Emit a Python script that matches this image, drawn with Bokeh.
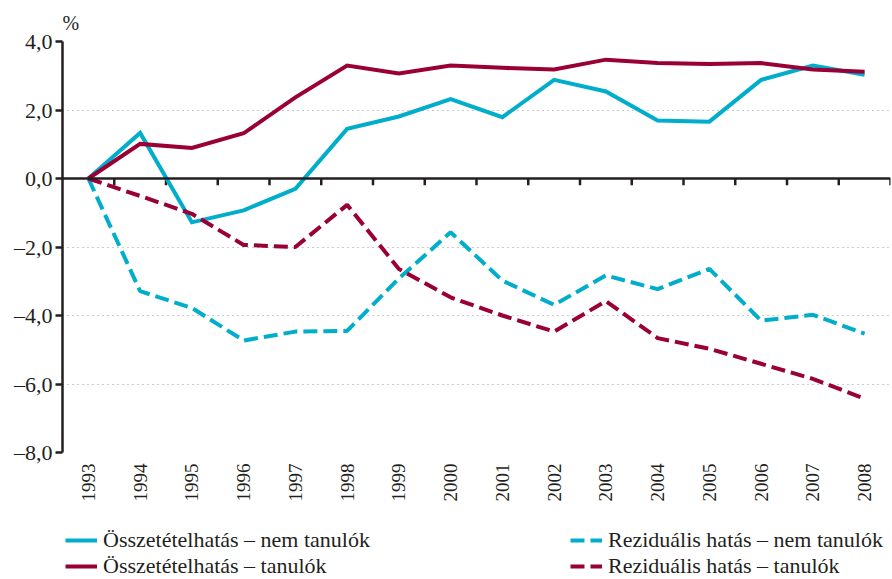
import math
from bokeh.plotting import figure
from bokeh.layouts import column
from bokeh.models import (Range1d, FixedTicker, CustomJSTickFormatter, Span,
                          Legend, LegendItem)
from bokeh.embed import file_html
from bokeh.resources import INLINE

years = [str(y) for y in range(1993, 2009)]
osszetetel_nem = [0, 1.33, -1.28, -0.93, -0.30, 1.45, 1.81, 2.32, 1.79, 2.88, 2.54, 1.69, 1.66, 2.88, 3.30, 3.03]
osszetetel_tan = [0, 1.01, 0.89, 1.32, 2.37, 3.30, 3.07, 3.30, 3.23, 3.18, 3.47, 3.37, 3.34, 3.37, 3.18, 3.12]
rezid_nem = [0, -3.29, -3.78, -4.73, -4.47, -4.45, -2.92, -1.57, -2.98, -3.69, -2.83, -3.23, -2.64, -4.15, -3.98, -4.53]
rezid_tan = [0, -0.51, -1.03, -1.94, -2.00, -0.77, -2.64, -3.47, -4.00, -4.47, -3.58, -4.66, -4.97, -5.41, -5.85, -6.43]
y_ticks = [-8, -6, -4, -2, 0, 2, 4]
labels = ["Összetételhatás – nem tanulók", "Összetételhatás – tanulók",
          "Reziduális hatás – nem tanulók", "Reziduális hatás – tanulók"]

TEAL = "#00aecb"
MAROON = "#9a0036"
INK = "#231f20"
FONT = "Liberation Serif"
DASH = "14 6"
LW = 4

n = len(years)
xs = [i + 0.5 for i in range(n)]

p = figure(width=892, height=517, output_backend="svg", toolbar_location=None,
           x_range=Range1d(0, n), y_range=Range1d(-8, 4),
           min_border_left=62, min_border_right=2, min_border_top=41, min_border_bottom=65)
p.outline_line_color = None

# "%" unit label above the y axis
p.title.text = "%"
p.title.align = "left"
p.title.offset = 0
p.title.standoff = 16
p.title.text_font = FONT
p.title.text_font_size = "20px"
p.title.text_font_style = "normal"
p.title.text_color = INK

# grid
p.xgrid.visible = False
p.ygrid.ticker = FixedTicker(ticks=y_ticks)
p.ygrid.grid_line_color = "#9a9a9a"
p.ygrid.grid_line_dash = "1 4"
p.ygrid.grid_line_width = 1.2

# y axis
p.yaxis.ticker = FixedTicker(ticks=y_ticks)
p.yaxis.formatter = CustomJSTickFormatter(
    code="return (tick < 0 ? '\u2013' : '') + Math.abs(tick).toFixed(1).replace('.', ',');")
p.yaxis.axis_line_color = INK
p.yaxis.axis_line_width = 2.5
p.yaxis.major_tick_line_color = INK
p.yaxis.major_tick_line_width = 2.5
p.yaxis.major_tick_out = 7
p.yaxis.major_tick_in = 0
p.yaxis.minor_tick_line_color = None
p.yaxis.major_label_text_font = FONT
p.yaxis.major_label_text_font_size = "22px"
p.yaxis.major_label_text_color = INK
p.yaxis.major_label_standoff = 3

# x axis (labels only)
p.xaxis.ticker = FixedTicker(ticks=xs)
p.xaxis.major_label_overrides = {x: y for x, y in zip(xs, years)}
p.xaxis.major_label_orientation = math.pi / 2
p.xaxis.axis_line_color = None
p.xaxis.major_tick_line_color = None
p.xaxis.minor_tick_line_color = None
p.xaxis.major_label_text_font = FONT
p.xaxis.major_label_text_font_size = "19px"
p.xaxis.major_label_text_color = INK
p.xaxis.major_label_standoff = 5

# zero line with tick marks at category boundaries
p.add_layout(Span(location=0, dimension="width", line_color=INK, line_width=2.5))
bounds = list(range(1, n + 1))
p.segment(x0=bounds, y0=[0] * len(bounds), x1=bounds, y1=[-0.2] * len(bounds),
          line_color=INK, line_width=2.5)

p.line(xs, osszetetel_nem, line_color=TEAL, line_width=LW, line_join="miter")
p.line(xs, osszetetel_tan, line_color=MAROON, line_width=LW, line_join="miter")
p.line(xs, rezid_nem, line_color=TEAL, line_width=LW, line_dash=DASH)
p.line(xs, rezid_tan, line_color=MAROON, line_width=LW, line_dash=DASH)

# legend strip below the chart (its frame is aligned with the chart frame)
lg_fig = figure(width=892, height=62, output_backend="svg", toolbar_location=None,
                x_range=Range1d(0, 1), y_range=Range1d(0, 1),
                x_axis_location=None, y_axis_location=None,
                min_border_left=0, min_border_right=0, min_border_top=0, min_border_bottom=0)
lg_fig.outline_line_color = None
lg_fig.xgrid.visible = False
lg_fig.ygrid.visible = False
styles = [(TEAL, "solid"), (MAROON, "solid"), (TEAL, DASH), (MAROON, DASH)]
# off-range sample lines: only used to give the legend its line samples
dummies = [lg_fig.line(x=[-5, -4], y=[-5, -4], line_color=c, line_width=LW, line_dash=d)
           for c, d in styles]

def make_legend(idx, loc):
    lg = Legend(items=[LegendItem(label=labels[i], renderers=[dummies[i]]) for i in idx],
                location=loc, orientation="vertical")
    lg.label_text_font = FONT
    lg.label_text_font_size = "22px"
    lg.label_text_color = INK
    lg.background_fill_alpha = 0
    lg.border_line_alpha = 0
    lg.padding = 0
    lg.margin = 0
    lg.spacing = 0
    lg.glyph_width = 32
    lg.glyph_height = 20
    lg.label_height = 20
    lg.label_standoff = 6
    return lg

lg_fig.add_layout(make_legend([0, 1], (3, 0)))
lg_fig.add_layout(make_legend([2, 3], (508, 0)))

layout = column(p, lg_fig, spacing=0)
open("out.html", "w").write(file_html(layout, INLINE))
